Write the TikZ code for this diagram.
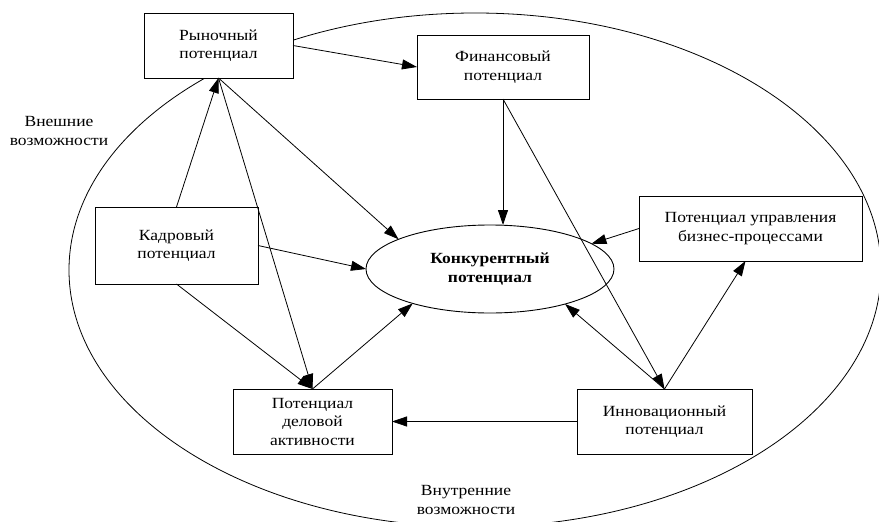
\documentclass[tikz,border=0pt]{standalone}
\usepackage{fontspec}
\setmainfont{Liberation Serif}[FakeStretch=1.13]
\usetikzlibrary{arrows.meta,shapes.geometric,calc}
\begin{document}
\begin{tikzpicture}[x=1pt,y=-1pt,
  box/.style={draw,fill=white,line width=0.9pt,inner sep=0pt,outer sep=0pt,align=center,font=\fontsize{15.5}{18.5}\selectfont},
  arr/.style={line width=0.8pt,-{Triangle[length=15pt,width=10pt]}},
  lbl/.style={align=center,font=\fontsize{15.5}{19}\selectfont}]
\useasboundingbox (0,0) rectangle (879,522);
\begin{scope}
\clip (0,0) rectangle (879,522);
\draw[line width=0.8pt] (475,270) ellipse [x radius=406pt, y radius=257pt];
\end{scope}
\node[box,minimum width=149pt,minimum height=65pt] (r) at (218.5,45.5) {Рыночный\\потенциал};
\node[box,minimum width=172pt,minimum height=64pt] (f) at (503,67) {Финансовый\\потенциал};
\node[box,minimum width=163pt,minimum height=77pt] (k) at (176.5,245.5) {Кадровый\\потенциал};
\node[box,minimum width=223pt,minimum height=65pt] (u) at (750.5,228.5) {Потенциал управления\\бизнес-процессами};
\node[box,minimum width=159pt,minimum height=65pt] (d) at (312.5,421.5) {Потенциал\\деловой\\активности};
\node[box,minimum width=175pt,minimum height=65pt] (i) at (664.5,421.5) {Инновационный\\потенциал};
\node[box,ellipse,minimum width=248pt,minimum height=88pt,font=\fontsize{15.5}{19.5}\selectfont\bfseries] (c) at (490,269) {Конкурентный\\потенциал};
\node[lbl] (ext) at (59,131) {Внешние\\возможности};
\node[lbl] (int) at (466,500) {Внутренние\\возможности};
\draw[arr] (r.east) -- (f.west);
\draw[arr] (k.north) -- (r.south);
\draw[arr] (r.south) -- (d.north);
\draw[arr] (r.south) -- (c.162);
\draw[arr] (k.east) -- (c.180);
\draw[arr] (k.south) -- (d.north);
\draw[arr] (d.north) -- (c.204);
\draw[arr] (f.south) -- (f.south |- c.north);
\draw[arr] (f.south) -- (i.north);
\draw[arr] (u.west) -- (c.14);
\draw[arr] (i.north) -- ([xshift=-5pt]u.south);
\draw[arr] (i.north) -- (c.335);
\draw[arr] (i.west) -- (d.east);
\end{tikzpicture}
\end{document}
